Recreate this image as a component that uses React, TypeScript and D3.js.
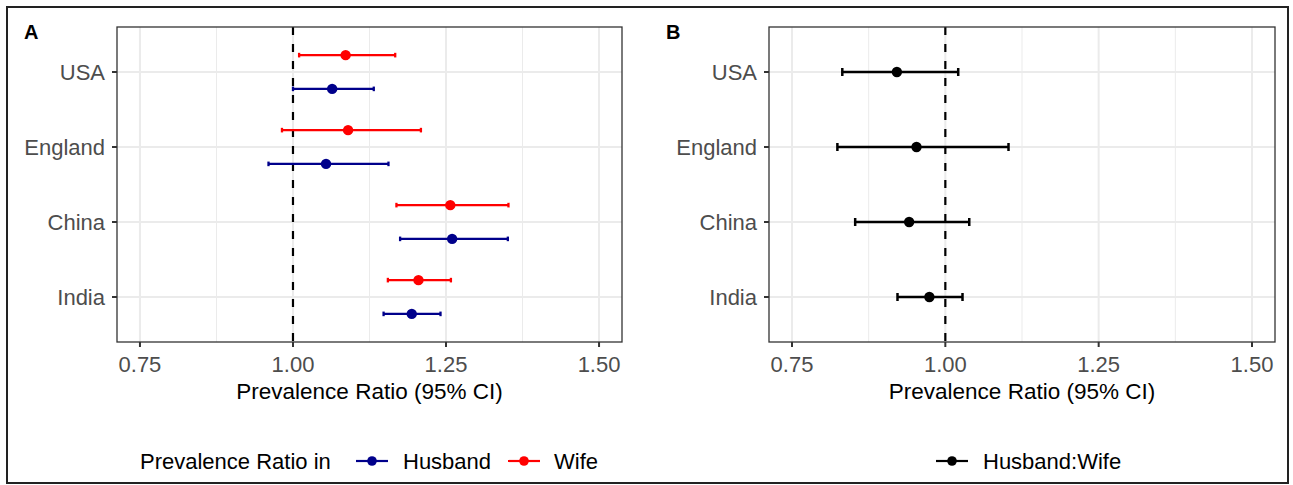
import React from "react";
import * as d3 from "d3";

const countries = ["USA", "England", "China", "India"];
const husbandPR = [1.064, 1.054, 1.26, 1.194];
const husbandLo = [1.0, 0.96, 1.175, 1.148];
const husbandHi = [1.132, 1.156, 1.351, 1.241];
const wifePR = [1.086, 1.09, 1.257, 1.205];
const wifeLo = [1.01, 0.982, 1.169, 1.155];
const wifeHi = [1.167, 1.209, 1.352, 1.258];
const ratioPR = [0.921, 0.953, 0.941, 0.974];
const ratioLo = [0.832, 0.824, 0.853, 0.922];
const ratioHi = [1.021, 1.103, 1.039, 1.028];
const xTicks = [0.75, 1.0, 1.25, 1.5];
const xMinor = [0.875, 1.125, 1.375];
const xTitle = "Prevalence Ratio (95% CI)";

const FONT = "'Liberation Sans', Arial, Helvetica, sans-serif";
const W = 1293;
const H = 485;

type Series = { pr: number[]; lo: number[]; hi: number[]; color: string; offset: number; cap: number; lw: number };

function Panel({ left, right, label, labelX, series }: { left: number; right: number; label: string; labelX: number; series: Series[] }) {
  const top = 27;
  const bottom = 342;
  const x = d3.scaleLinear().domain([0.7125, 1.5375]).range([left, right]);
  const y = d3.scalePoint<string>().domain(countries).range([top, bottom]).padding(0.6);
  const step = y.step();
  return (
    <g>
      <rect x={left} y={top} width={right - left} height={bottom - top} fill="#fff" />
      {xMinor.map((t) => (
        <line key={"mn" + t} x1={x(t)} x2={x(t)} y1={top} y2={bottom} stroke="#EBEBEB" strokeWidth={1} />
      ))}
      {xTicks.map((t) => (
        <line key={"mj" + t} x1={x(t)} x2={x(t)} y1={top} y2={bottom} stroke="#EBEBEB" strokeWidth={2} />
      ))}
      {countries.map((c) => (
        <line key={"hg" + c} x1={left} x2={right} y1={y(c)} y2={y(c)} stroke="#EBEBEB" strokeWidth={2} />
      ))}
      <line x1={x(1)} x2={x(1)} y1={top} y2={bottom} stroke="#000" strokeWidth={2.2} strokeDasharray="8,9" />
      {series.map((s, si) => (
        <g key={"s" + si}>
          {countries.map((c, i) => {
            const cy = (y(c) as number) + s.offset * step;
            return (
              <g key={c}>
                <line x1={x(s.lo[i])} x2={x(s.hi[i])} y1={cy} y2={cy} stroke={s.color} strokeWidth={s.lw} />
                <line x1={x(s.lo[i])} x2={x(s.lo[i])} y1={cy - s.cap} y2={cy + s.cap} stroke={s.color} strokeWidth={s.lw} />
                <line x1={x(s.hi[i])} x2={x(s.hi[i])} y1={cy - s.cap} y2={cy + s.cap} stroke={s.color} strokeWidth={s.lw} />
                <circle cx={x(s.pr[i])} cy={cy} r={5.2} fill={s.color} />
              </g>
            );
          })}
        </g>
      ))}
      <rect x={left} y={top} width={right - left} height={bottom - top} fill="none" stroke="#333333" strokeWidth={1.3} />
      {xTicks.map((t) => (
        <g key={"xt" + t}>
          <line x1={x(t)} x2={x(t)} y1={bottom} y2={bottom + 5} stroke="#333333" strokeWidth={2} />
          <text x={x(t)} y={372} textAnchor="middle" fontSize={22} fill="#4D4D4D" fontFamily={FONT}>
            {t.toFixed(2)}
          </text>
        </g>
      ))}
      {countries.map((c) => (
        <g key={"yt" + c}>
          <line x1={left - 5} x2={left} y1={y(c)} y2={y(c)} stroke="#333333" strokeWidth={2} />
          <text x={left - 12} y={(y(c) as number) + 8} textAnchor="end" fontSize={22} fill="#4D4D4D" fontFamily={FONT}>
            {c}
          </text>
        </g>
      ))}
      <text x={(left + right) / 2} y={399} textAnchor="middle" fontSize={22.5} fill="#000" fontFamily={FONT}>
        {xTitle}
      </text>
      <text x={labelX} y={39} fontSize={20} fontWeight="bold" fill="#000" fontFamily={FONT}>
        {label}
      </text>
    </g>
  );
}

function LegendKey({ x, y, color }: { x: number; y: number; color: string }) {
  return (
    <g>
      <line x1={x} x2={x + 32} y1={y} y2={y} stroke={color} strokeWidth={2.2} />
      <circle cx={x + 16} cy={y} r={4.8} fill={color} />
    </g>
  );
}

export default function App() {
  const ly = 461;
  return (
    <div style={{ position: "absolute", left: 0, top: 0 }}>
      <svg width={W} height={H} style={{ display: "block" }}>
        <rect x={0} y={0} width={W} height={H} fill="#fff" />
        <rect x={7} y={7} width={1281} height={476} fill="none" stroke="#222" strokeWidth={2} />
        <Panel
          left={117}
          right={622}
          label="A"
          labelX={24}
          series={[
            { pr: wifePR, lo: wifeLo, hi: wifeHi, color: "#FF0000", offset: -0.225, cap: 2.3, lw: 2.3 },
            { pr: husbandPR, lo: husbandLo, hi: husbandHi, color: "#00008B", offset: 0.225, cap: 2.3, lw: 2.3 },
          ]}
        />
        <Panel
          left={769}
          right={1275}
          label="B"
          labelX={666}
          series={[{ pr: ratioPR, lo: ratioLo, hi: ratioHi, color: "#000000", offset: 0, cap: 4, lw: 2.5 }]}
        />
        <text x={140} y={ly + 8} fontSize={22} fill="#000" fontFamily={FONT}>Prevalence Ratio in</text>
        <LegendKey x={356} y={ly} color="#00008B" />
        <text x={403} y={ly + 8} fontSize={22} fill="#000" fontFamily={FONT}>Husband</text>
        <LegendKey x={508} y={ly} color="#FF0000" />
        <text x={554} y={ly + 8} fontSize={22} fill="#000" fontFamily={FONT}>Wife</text>
        <LegendKey x={936} y={ly} color="#000000" />
        <text x={983} y={ly + 8} fontSize={22} fill="#000" fontFamily={FONT}>Husband:Wife</text>
      </svg>
    </div>
  );
}
